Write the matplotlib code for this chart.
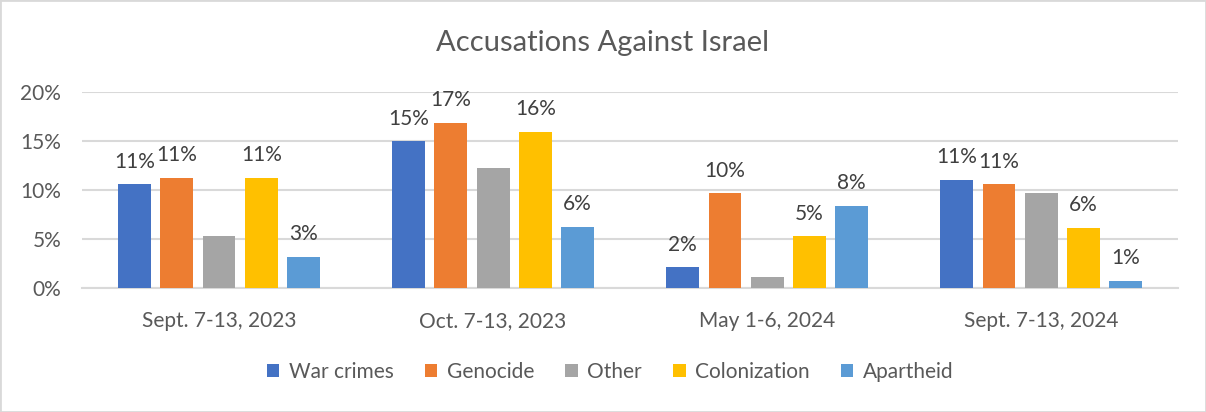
import matplotlib.pyplot as plt
from matplotlib.patches import Rectangle
import numpy as np

periods = ['Sept. 7-13, 2023', 'Oct. 7-13, 2023', 'May 1-6, 2024', 'Sept. 7-13, 2024']
series = ['War crimes', 'Genocide', 'Other', 'Colonization', 'Apartheid']
war_crimes = [0.106, 0.150, 0.0215, 0.111]
genocide = [0.113, 0.169, 0.097, 0.106]
other = [0.053, 0.123, 0.012, 0.097]
colonization = [0.113, 0.160, 0.053, 0.062]
apartheid = [0.032, 0.063, 0.084, 0.008]
colors = ['#4472C4', '#ED7D31', '#A5A5A5', '#FFC000', '#5B9BD5']
labelled = [True, True, False, True, True]

plt.rcParams['font.family'] = ['Lato', 'DejaVu Sans']

fig = plt.figure(figsize=(12.06, 4.12), dpi=100)
ax = fig.add_axes([0.068, 0.300, 0.909, 0.476])

x = np.arange(len(periods))
width = 0.12
step = 0.154
values = [war_crimes, genocide, other, colonization, apartheid]
for i, (name, vals) in enumerate(zip(series, values)):
    pos = x + (i - 2) * step
    bars = ax.bar(pos, vals, width, color=colors[i], label=name, zorder=3)
    if labelled[i]:
        for b, v in zip(bars, vals):
            ax.annotate(f'{v:.0%}', (b.get_x() + b.get_width() / 2, v),
                        xytext=(0, 12), textcoords='offset points',
                        ha='center', va='baseline', fontsize=15, color='#404040')

ax.set_xlim(-0.5, 3.5)
ax.set_ylim(0, 0.2)
ax.set_yticks([0, 0.05, 0.10, 0.15, 0.20])
ax.set_yticklabels(['0%', '5%', '10%', '15%', '20%'])
ax.set_xticks(x)
ax.set_xticklabels(periods)
ax.tick_params(axis='both', length=0, labelsize=15, labelcolor='#595959')
ax.tick_params(axis='x', pad=16)
ax.tick_params(axis='y', pad=15)
ax.grid(axis='y', color='#D9D9D9', linewidth=1.5, zorder=0)
for s in ['top', 'right', 'left']:
    ax.spines[s].set_visible(False)
ax.spines['bottom'].set_color('#D9D9D9')
ax.spines['bottom'].set_linewidth(1.5)

fig.text(0.5, 0.895, 'Accusations Against Israel', ha='center', va='center',
         fontsize=21, color='#595959')

fig.legend(loc='center', bbox_to_anchor=(0.506, 0.097), ncol=5, frameon=False,
           fontsize=15, labelcolor='#595959', handlelength=0.6, handleheight=0.6,
           handletextpad=0.45, columnspacing=1.5)

fig.add_artist(Rectangle((0, 0), 1, 1, transform=fig.transFigure, fill=False,
                         edgecolor='#D9D9D9', linewidth=2))

fig.savefig('out.png', dpi=100)
